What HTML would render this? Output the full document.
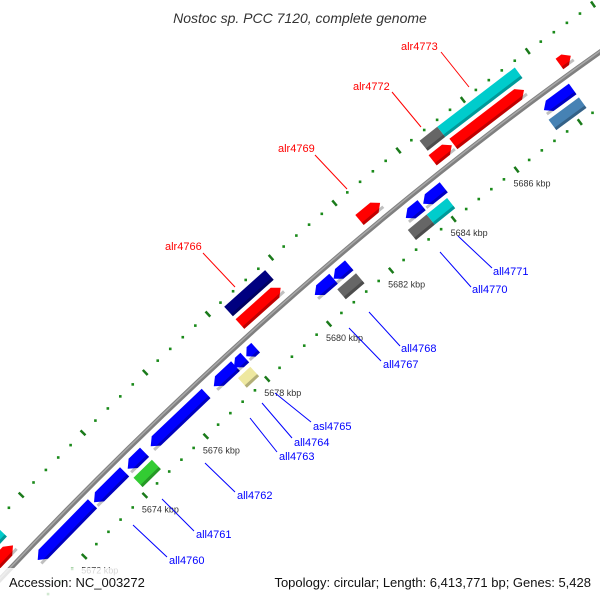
<!DOCTYPE html>
<html><head><meta charset="utf-8"><style>
html,body{margin:0;padding:0;background:#fff;width:600px;height:600px;overflow:hidden;}
svg{display:block;font-family:"Liberation Sans",sans-serif;}
</style></head><body>
<svg id="map" width="600" height="600" viewBox="0 0 600 600" xmlns="http://www.w3.org/2000/svg">
<rect width="600" height="600" fill="#fff"/>
<g id="ticks"></g>
<path id="backbone" d="M-10,590 Q290,270 610,45" fill="none" stroke="#808080" stroke-width="5"/>
<path d="M-10,589 Q290,269 610,44" fill="none" stroke="#a8a8a8" stroke-width="1.5"/>
<g id="genes"></g>
<g id="labels"></g>
<text x="300" y="23" text-anchor="middle" font-size="14" font-style="italic" fill="#333">Nostoc sp. PCC 7120, complete genome</text>
<rect x="0" y="568" width="600" height="32" fill="#fff" opacity="0.8"/>
<text x="9" y="587" font-size="13" fill="#111">Accession: NC_003272</text>
<text x="591" y="587" text-anchor="end" font-size="13" fill="#111">Topology: circular; Length: 6,413,771 bp; Genes: 5,428</text>
</svg>
<script>
const geneStart=[5669.5,5669.5,5671.2,5673.05,5674.15,5674.1,5674.9,5676.95,5677.6,5678.0,5677.5,5678.4,5678.4,5680.2,5680.8,5680.7,5682.2,5683.1,5683.65,5682.95,5683.55,5684.55,5685.1,5684.5,5685.15,5688.45,5687.45,5687.4];
const geneEnd=[5671.05,5671.1,5673.0,5674.05,5674.7,5674.7,5676.7,5677.65,5677.95,5678.3,5677.9,5679.7,5679.7,5680.8,5681.3,5681.3,5682.85,5683.6,5684.3,5683.55,5684.2,5685.1,5687.5,5685.1,5687.35,5688.8,5688.35,5688.35];
const geneStrand=[1,1,-1,-1,-1,-1,-1,-1,-1,-1,-1,1,1,-1,-1,-1,1,-1,-1,-1,-1,1,1,1,1,1,-1,-1];
const geneRing=[1,2,1,1,1,2,1,1,1,1,2,1,2,1,1,2,1,1,1,2,2,2,2,1,1,1,1,2];
const geneColor=["#ff0000","#00cccc","#0000ff","#0000ff","#0000ff","#33cc33","#0000ff","#0000ff","#0000ff","#0000ff","#eee8a0","#ff0000","#000080","#0000ff","#0000ff","#666666","#ff0000","#0000ff","#0000ff","#666666","#00cccc","#666666","#00cccc","#ff0000","#ff0000","#ff0000","#0000ff","#4682b4"];
const tickStartKbp=5668.8, tickStepKbp=0.4, tickCount=54;
const kbpLabels=[5672,5674,5676,5678,5680,5682,5684,5686];

const NS="http://www.w3.org/2000/svg";
function tOf(k){return 0.103+(k-5672)*0.0505;}
function pos(k,off){
  const t=tOf(k),u=1-t;
  const x=u*u*-10+2*t*u*290+t*t*610, y=u*u*590+2*t*u*270+t*t*45;
  const dx=2*u*(290+10)+2*t*(610-290), dy=2*u*(270-590)+2*t*(45-270);
  const L=Math.hypot(dx,dy); const nx=dy/L, ny=-dx/L;
  return [x+nx*off,y+ny*off];
}
function pts(a){return a.map(p=>p[0].toFixed(1)+","+p[1].toFixed(1)).join(" ");}

const tg=document.getElementById('ticks');
[43,-45].forEach(r=>{
  for(let i=0;i<tickCount;i++){
    const k=tickStartKbp+i*tickStepKbp;
    const major=Math.abs(((k-5672)/2)-Math.round((k-5672)/2))<1e-6;
    if(major){
      const a=pos(k,r+3.5),b=pos(k,r-3.5);
      const ln=document.createElementNS(NS,'line');
      
      
      ln.setAttribute('x1',a[0]);ln.setAttribute('y1',a[1]);ln.setAttribute('x2',b[0]);ln.setAttribute('y2',b[1]);
      ln.setAttribute('stroke','#1a7a1a');ln.setAttribute('stroke-width','2.5');
      tg.appendChild(ln);
    }else{
      const p=pos(k,r);
      const c=document.createElementNS(NS,'rect');
      
      
      c.setAttribute('x',p[0]-1.3);c.setAttribute('y',p[1]-1.3);c.setAttribute('width',2.6);c.setAttribute('height',2.6);
      c.setAttribute('fill','#1a8a1a');
      tg.appendChild(c);
    }
  }
});
kbpLabels.forEach(k=>{
  const p=pos(k,-45);
  const tx=document.createElementNS(NS,'text');
  
  
  tx.setAttribute('x',p[0]-3);tx.setAttribute('y',p[1]+17);
  tx.setAttribute('font-size','9');tx.setAttribute('fill','#333');
  tx.textContent=k+' kbp';
  tg.appendChild(tx);
});

const gg=document.getElementById('genes');
const H=13;
for(let i=0;i<geneStart.length;i++){
  const s=geneStart[i],e=geneEnd[i],st=geneStrand[i],rg=geneRing[i];
  const r=st*(rg===1?14:31);
  const lo=r-H/2, hi=r+H/2;
  let poly;
  if(rg===1){
    const tip=Math.min(0.18,(e-s)/2);
    if(st>0) poly=[pos(s,lo),pos(e-tip,lo),pos(e,r),pos(e-tip,hi),pos(s,hi)];
    else poly=[pos(s,r),pos(s+tip,lo),pos(e,lo),pos(e,hi),pos(s+tip,hi)];
  } else poly=[pos(s,lo),pos(e,lo),pos(e,hi),pos(s,hi)];
  const g=document.createElementNS(NS,'polygon');
  
  
  g.setAttribute('points',pts(poly));
  g.setAttribute('fill',geneColor[i]);
  gg.appendChild(g);
  const sh=document.createElementNS(NS,'polygon');
  
  
  sh.setAttribute('points',pts([pos(s,lo),pos(e,lo),pos(e,lo+3),pos(s,lo+3)]));
  sh.setAttribute('fill','#000');sh.setAttribute('opacity','0.25');
  gg.appendChild(sh);
}

const labelNames=["alr4766","alr4769","alr4772","alr4773","all4771","all4770","all4768","all4767","asl4765","all4764","all4763","all4762","all4761","all4760"];
const labelX=[165,278,353,401,493,472,401,383,313,294,279,237,196,169];
const labelY=[250,152,90,50,275,293,352,368,430,446,460,499,538,564];
const lineFrom=[[203,253],[315,155],[392,92],[441,52],[492,268],[471,287],[400,346],[381,361],[311,422],[292,438],[277,452],[235,492],[194,531],[167,557]];
const lineTo=[[235,287],[347,189],[421,127],[469,87],[458,236],[440,252],[369,312],[349,328],[275,393],[262,403],[250,418],[205,463],[162,499],[133,525]];
const lg=document.getElementById('labels');
labelNames.forEach((n,i)=>{
  const fwd=n.startsWith('alr');
  const col=fwd?'#ff0000':'#0000ff';
  const ln=document.createElementNS(NS,'line');
  
  
  ln.setAttribute('x1',lineFrom[i][0]);ln.setAttribute('y1',lineFrom[i][1]);
  ln.setAttribute('x2',lineTo[i][0]);ln.setAttribute('y2',lineTo[i][1]);
  ln.setAttribute('stroke',col);ln.setAttribute('stroke-width','1');
  lg.appendChild(ln);
  const tx=document.createElementNS(NS,'text');
  
  
  tx.setAttribute('x',labelX[i]);tx.setAttribute('y',labelY[i]);
  tx.setAttribute('font-size','11');tx.setAttribute('fill',col);
  tx.textContent=n;
  lg.appendChild(tx);
});
</script>
</body></html>
